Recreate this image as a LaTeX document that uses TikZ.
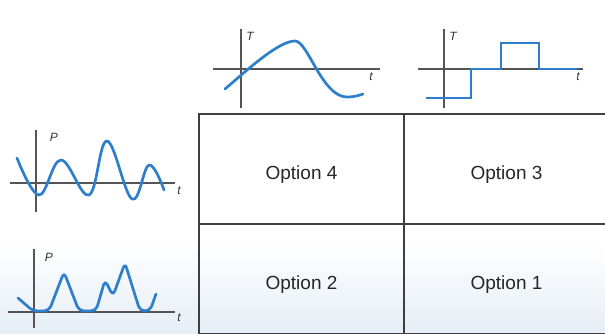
\documentclass[tikz,border=0pt]{standalone}
\usepackage{fontspec}
\setmainfont{Liberation Sans}
\definecolor{wave}{HTML}{2E7FCB}
\definecolor{axisc}{HTML}{555555}
\definecolor{gridc}{HTML}{3F3F3F}
\definecolor{haze}{HTML}{E6EEF6}
\begin{document}
\begin{tikzpicture}[x=1pt,y=-1pt,
  cell/.style={draw=gridc,line width=1.3pt,minimum width=205pt,minimum height=110pt,inner sep=0pt,text height=20pt,text depth=0pt,font=\fontsize{19}{22}\selectfont,text=black!85},
  axisline/.style={draw=axisc,line width=1.1pt},
  wavel/.style={draw=wave,line width=2.7pt,line cap=round,line join=round},
  axlbl/.style={font=\fontsize{12}{13}\selectfont\itshape,text=black!80,inner sep=0pt}]
\useasboundingbox (0,0) rectangle (605,333);
\shade[top color=white,bottom color=haze] (0,240) rectangle (605,333);
% grid cells
\node[cell] (o4) at (301.5,169) {Option 4};
\node[cell] (o3) at (506.5,169) {Option 3};
\node[cell] (o2) at (301.5,279) {Option 2};
\node[cell] (o1) at (506.5,279) {Option 1};
% graph top middle
\coordinate (a1t) at (241,29); \coordinate (a1b) at (241,108);
\coordinate (a1l) at (213,69); \coordinate (a1r) at (380,69);
\draw[axisline] (a1t) -- (a1b); \draw[axisline] (a1l) -- (a1r);
\node[axlbl] (T1) at (250,36) {T};
\node[axlbl] (t1) at (371,77) {t};
\draw[wavel] (225,89) .. controls (245,72) and (278,41) .. (295,41)
  .. controls (308,41) and (322,97) .. (347,97)
  .. controls (355,97) and (360,95) .. (363,94);
% graph top right
\coordinate (a2t) at (444,29); \coordinate (a2b) at (444,108);
\coordinate (a2l) at (418,69); \coordinate (a2r) at (583,69);
\draw[axisline] (a2t) -- (a2b); \draw[axisline] (a2l) -- (a2r);
\node[axlbl] (T2) at (453,36) {T};
\node[axlbl] (t2) at (578,77) {t};
\draw[wavel,line cap=butt,line join=miter] (426,98) -- (471,98) -- (471,69) -- (501,69) -- (501,43) -- (539,43) -- (539,69) -- (577,69);
% graph middle left
\coordinate (a3t) at (36,130); \coordinate (a3b) at (36,212);
\coordinate (a3l) at (10,183); \coordinate (a3r) at (175,183);
\draw[axisline] (a3t) -- (a3b); \draw[axisline] (a3l) -- (a3r);
\node[axlbl] (P3) at (54,137) {P};
\node[axlbl] (t3) at (179,191) {t};
\draw[wavel] plot[smooth,tension=0.65] coordinates {(17,158) (39,195) (61,160) (89,195) (107,141) (132,199) (149,165) (164,190)};
% graph bottom left
\coordinate (a4t) at (34,249); \coordinate (a4b) at (34,328);
\coordinate (a4l) at (8,312); \coordinate (a4r) at (175,312);
\draw[axisline] (a4t) -- (a4b); \draw[axisline] (a4l) -- (a4r);
\node[axlbl] (P4) at (49,257) {P};
\node[axlbl] (t4) at (179,318) {t};
\draw[wavel,rounded corners=5pt] (18,298) -- (33,311) -- (49,311) -- (64,272) -- (79,311) -- (96,311) -- (105,280) -- (113,296) -- (125,263) -- (140,311) -- (150,311) -- (156,294);
\end{tikzpicture}
\end{document}
